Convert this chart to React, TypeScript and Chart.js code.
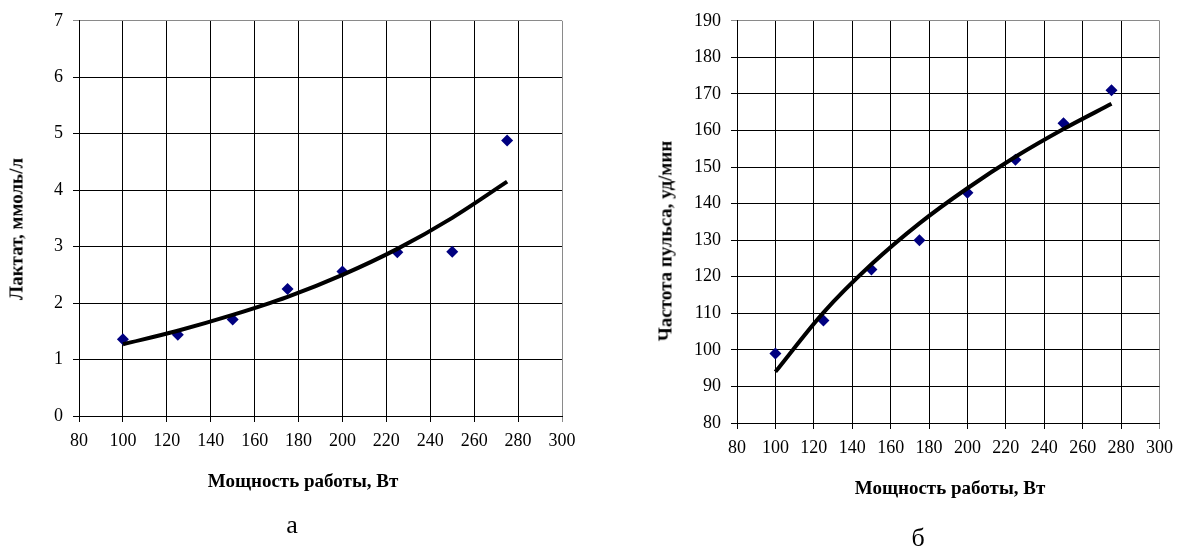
import React, { useEffect, useRef } from 'react';
import { Chart, registerables } from 'chart.js';

Chart.register(...registerables);

// ---- data ----
const powerW = [100, 125, 150, 175, 200, 225, 250, 275];
const lactate = [1.36, 1.44, 1.71, 2.25, 2.56, 2.9, 2.91, 4.88];
const lactateTrend = [1.27, 1.51, 1.79, 2.11, 2.5, 2.96, 3.51, 4.15];
const pulse = [99, 108, 122, 130, 143, 152, 162, 171];
const pulseTrend = [94.0, 110.2, 123.4, 134.6, 144.2, 152.8, 160.4, 167.3];

const xAxisTitle = 'Мощность работы, Вт';
const leftYTitle = 'Лактат, ммоль/л';
const rightYTitle = 'Частота пульса, уд/мин';
const captions = ['а', 'б'];

const SERIF = 'Liberation Serif';
Chart.defaults.font.family = SERIF;

type Geom = {
  left: number; top: number; width: number; height: number;
  plotLeft: number; plotRight: number; plotTop: number; plotBottom: number;
};

function buildConfig(values: number[], trend: number[], yMin: number, yMax: number, yStep: number, g: Geom): any {
  const pts = powerW.map((x, i) => ({ x, y: values[i] }));
  const trendPts = powerW.map((x, i) => ({ x, y: trend[i] }));
  const gridColor = (max: number) => (ctx: any) =>
    ctx.tick && ctx.tick.value === max ? '#8a8a8a' : '#000';
  return {
    type: 'scatter',
    data: {
      datasets: [
        {
          type: 'line',
          data: trendPts,
          borderColor: '#000',
          borderWidth: 4,
          pointRadius: 0,
          fill: false,
          cubicInterpolationMode: 'monotone',
          showLine: true,
        },
        {
          type: 'scatter',
          data: pts,
          pointStyle: 'rectRot',
          pointRadius: 6,
          pointHoverRadius: 6,
          backgroundColor: '#000080',
          borderColor: '#000080',
          borderWidth: 0,
        },
      ],
    },
    options: {
      animation: false,
      responsive: false,
      devicePixelRatio: 1,
      events: [],
      layout: {
        padding: { left: 0, top: g.plotTop, right: g.width - g.plotRight, bottom: 0 },
      },
      plugins: { legend: { display: false }, tooltip: { enabled: false }, title: { display: false } },
      scales: {
        x: {
          type: 'linear',
          min: 80,
          max: 300,
          afterFit: (s: any) => { s.height = g.height - g.plotBottom; },
          ticks: { stepSize: 20, color: '#000', padding: 8, font: { family: SERIF, size: 18 } },
          grid: { color: gridColor(300), lineWidth: 1, tickLength: 6, drawTicks: true },
          border: { display: true, color: '#000', width: 1 },
        },
        y: {
          type: 'linear',
          min: yMin,
          max: yMax,
          afterFit: (s: any) => { s.width = g.plotLeft; },
          ticks: { stepSize: yStep, color: '#000', padding: 10, font: { family: SERIF, size: 18 } },
          grid: { color: gridColor(yMax), lineWidth: 1, tickLength: 6, drawTicks: true },
          border: { display: true, color: '#000', width: 1 },
        },
      },
    },
  };
}

function ChartPanel(props: { values: number[]; trend: number[]; yMin: number; yMax: number; yStep: number; g: Geom }) {
  const ref = useRef<HTMLCanvasElement | null>(null);
  useEffect(() => {
    if (!ref.current) return;
    const chart = new Chart(ref.current, buildConfig(props.values, props.trend, props.yMin, props.yMax, props.yStep, props.g));
    return () => chart.destroy();
  }, []);
  const g = props.g;
  return (
    <canvas
      ref={ref}
      width={g.width}
      height={g.height}
      style={{ position: 'absolute', left: g.left, top: g.top, width: g.width, height: g.height }}
    />
  );
}

function Label(props: { text: string; x: number; y: number; size: number; bold?: boolean; rotate?: boolean }) {
  return (
    <div
      style={{
        position: 'absolute',
        left: props.x,
        top: props.y,
        transform: 'translate(-50%, -50%)' + (props.rotate ? ' rotate(-90deg)' : ''),
        whiteSpace: 'nowrap',
        fontFamily: '"Liberation Serif", serif',
        fontSize: props.size,
        fontWeight: props.bold ? 'bold' : 'normal',
        lineHeight: 1,
        color: '#000',
      }}
    >
      {props.text}
    </div>
  );
}

const leftGeom: Geom = { left: 0, top: 0, width: 600, height: 470, plotLeft: 79, plotRight: 562, plotTop: 19, plotBottom: 416 };
const rightGeom: Geom = { left: 600, top: 0, width: 581, height: 480, plotLeft: 137, plotRight: 562, plotTop: 19, plotBottom: 423 };

export default function App() {
  return (
    <div style={{ position: 'absolute', left: 0, top: 0, width: 1181, height: 549, background: '#fff', overflow: 'hidden' }}>
      <ChartPanel values={lactate} trend={lactateTrend} yMin={0} yMax={7} yStep={1} g={leftGeom} />
      <ChartPanel values={pulse} trend={pulseTrend} yMin={80} yMax={190} yStep={10} g={rightGeom} />
      <Label text={leftYTitle} x={16} y={229} size={19} bold rotate />
      <Label text={xAxisTitle} x={303} y={480} size={19} bold />
      <Label text={captions[0]} x={292} y={525} size={26} />
      <Label text={rightYTitle} x={665} y={241} size={19} bold rotate />
      <Label text={xAxisTitle} x={950} y={487} size={19} bold />
      <Label text={captions[1]} x={918} y={538} size={26} />
    </div>
  );
}
